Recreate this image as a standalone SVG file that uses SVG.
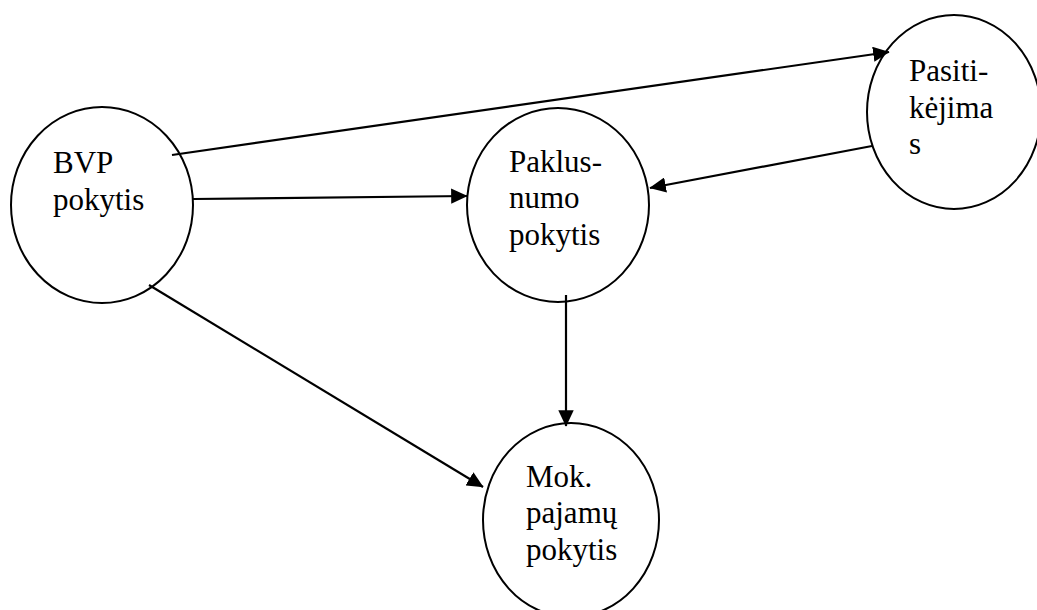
<svg xmlns="http://www.w3.org/2000/svg" width="1037" height="610" viewBox="0 0 1037 610">
<style>
.node{fill:#fff;stroke:#000;stroke-width:2}
.lbl{font-family:"Liberation Serif","Times New Roman",serif;font-size:31px;fill:#000}
.edge{stroke:#000;stroke-width:2.2;fill:none;marker-end:url(#ah)}
</style>
<defs>
<marker id="ah" markerWidth="7.5" markerHeight="7" refX="7.2" refY="3.5" orient="auto" markerUnits="strokeWidth">
<path d="M0,0 L7.5,3.5 L0,7 z" fill="#000"/>
</marker>
</defs>
<rect width="1037" height="610" fill="#fff"/>
<g id="n-bvp">
<ellipse class="node" cx="102" cy="205" rx="91" ry="98"/>
<text class="lbl" x="53" y="173">BVP</text>
<text class="lbl" x="53" y="210">pokytis</text>
</g>
<g id="n-pak">
<ellipse class="node" cx="558" cy="205" rx="91" ry="97"/>
<text class="lbl" x="509" y="172">Paklus-</text>
<text class="lbl" x="509" y="208">numo</text>
<text class="lbl" x="509" y="245">pokytis</text>
</g>
<g id="n-pas">
<ellipse class="node" cx="954" cy="112" rx="87" ry="97"/>
<text class="lbl" x="909" y="81">Pasiti-</text>
<text class="lbl" x="909" y="118">kėjima</text>
<text class="lbl" x="909" y="154">s</text>
</g>
<g id="n-mok">
<ellipse class="node" cx="571" cy="520" rx="88" ry="97"/>
<text class="lbl" x="526" y="487">Mok.</text>
<text class="lbl" x="526" y="523">pajamų</text>
<text class="lbl" x="526" y="560">pokytis</text>
</g>
<g id="connectors">
<line class="edge" x1="172" y1="155" x2="889" y2="52"/>
<line class="edge" x1="193" y1="199" x2="467" y2="196"/>
<line class="edge" x1="872" y1="146" x2="650" y2="188"/>
<line class="edge" x1="566" y1="295" x2="566" y2="426"/>
<line class="edge" x1="149" y1="285" x2="483" y2="487"/>
</g>
</svg>
